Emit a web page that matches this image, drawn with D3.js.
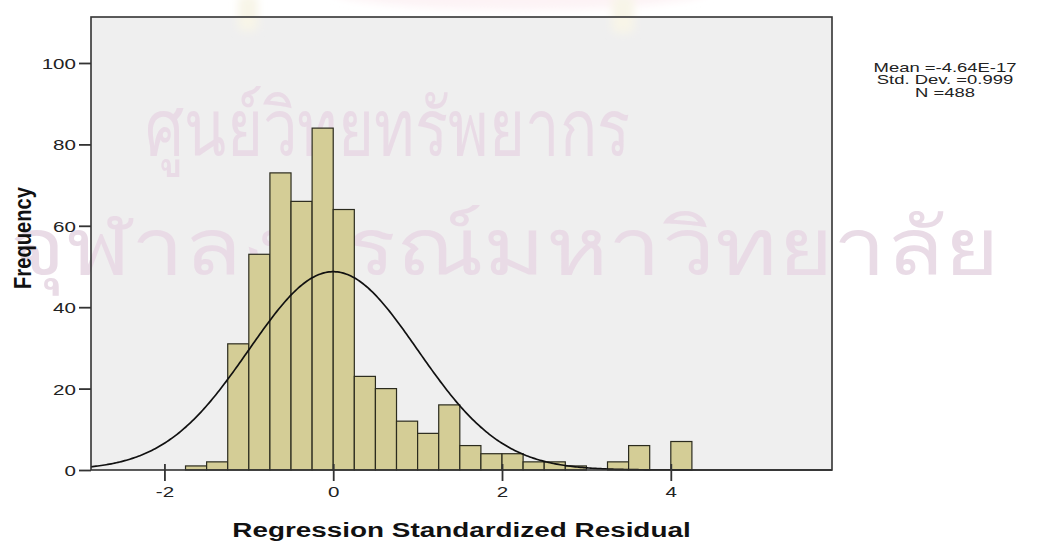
<!DOCTYPE html>
<html>
<head>
<meta charset="utf-8">
<script src="https://cdn.jsdelivr.net/npm/d3@7"></script>
<style>
  html, body { margin: 0; padding: 0; background: #ffffff; }
  svg { display: block; }
  text { font-family: "Liberation Sans", Arial, sans-serif; }
</style>
</head>
<body>
<svg id="chart" width="1040" height="541"></svg>
<script>
// Histogram of regression standardized residuals
const binLower = [-1.75, -1.5, -1.25, -1.0, -0.75, -0.5, -0.25, 0.0, 0.25, 0.5, 0.75, 1.0,
                  1.25, 1.5, 1.75, 2.0, 2.25, 2.5, 2.75, 3.0, 3.25, 3.5, 3.75, 4.0];
const counts   = [1, 2, 31, 53, 73, 66, 84, 64, 23, 20, 12, 9,
                  16, 6, 4, 4, 2, 2, 1, 0, 2, 6, 0, 7];
const binWidth = 0.25;

const xTicks = [-2, 0, 2, 4];
const yTicks = [0, 20, 40, 60, 80, 100];

const statMean = -4.64e-17;
const statSd = 0.999;
const statN = 488;
const statLines = ["Mean =-4.64E-17", "Std. Dev. =0.999", "N =488"];

const watermarkLines = ["ศูนย์วิทยทรัพยากร", "จุฬาลงกรณ์มหาวิทยาลัย"];

const svg = d3.select("#chart");
const plot = { left: 91, right: 832, top: 17, bottom: 470 };
const SX = 1.42; // horizontal stretch of the lettering

const x = d3.scaleLinear().domain([-2.87, 5.91]).range([plot.left, plot.right]);
const y = d3.scaleLinear().domain([0, 111.3]).range([plot.bottom, plot.top]);

// place a text at (px,py) stretched horizontally around its anchor
function stretched(sel, px, py, sx, sy) {
  sel.attr("x", 0).attr("y", 0)
     .attr("transform", `translate(${px},${py}) scale(${sx},${sy || 1})`);
  return sel;
}

const defs = svg.append("defs");
defs.append("filter").attr("id", "soft")
  .attr("x", "-20%").attr("y", "-50%").attr("width", "140%").attr("height", "200%")
  .append("feGaussianBlur").attr("stdDeviation", 4);

// plot background
svg.append("rect")
  .attr("x", plot.left).attr("y", plot.top)
  .attr("width", plot.right - plot.left).attr("height", plot.bottom - plot.top)
  .attr("fill", "#efefef");

// faint emblem at the top edge
const emblem = svg.append("g").attr("filter", "url(#soft)");
emblem.append("ellipse").attr("cx", 520).attr("cy", -10).attr("rx", 190).attr("ry", 20)
  .attr("fill", "#fdf3f5");
emblem.append("rect").attr("x", 238).attr("y", -5).attr("width", 20).attr("height", 36)
  .attr("rx", 6).attr("fill", "#f8f5e8");
emblem.append("rect").attr("x", 612).attr("y", -5).attr("width", 22).attr("height", 38)
  .attr("rx", 6).attr("fill", "#f8f5e8");

// faint institutional watermark
const wm = svg.append("g").attr("fill", "#e9dbe6")
  .style("font-family", "'Noto Sans Thai', 'Loma', 'Garuda', 'Norasi', 'DejaVu Sans', sans-serif")
  .style("font-size", "80px");
wm.append("text").attr("x", 145).attr("y", 156)
  .attr("textLength", 485).attr("lengthAdjust", "spacingAndGlyphs")
  .text(watermarkLines[0]);
wm.append("text").attr("x", 10).attr("y", 275)
  .attr("textLength", 990).attr("lengthAdjust", "spacingAndGlyphs")
  .text(watermarkLines[1]);

// bars
svg.append("g").selectAll("rect")
  .data(binLower.map((b, i) => ({ lo: b, hi: b + binWidth, n: counts[i] })).filter(d => d.n > 0))
  .join("rect")
  .attr("x", d => x(d.lo))
  .attr("y", d => y(d.n))
  .attr("width", d => x(d.hi) - x(d.lo))
  .attr("height", d => y(0) - y(d.n))
  .attr("fill", "#d4cd96")
  .attr("stroke", "#2b2b1e")
  .attr("stroke-width", 1.2);

// fitted normal curve
const curveXs = d3.range(-2.87, 5.91 + 1e-9, 0.02);
const pdf = v => Math.exp(-0.5 * Math.pow((v - statMean) / statSd, 2)) / (statSd * Math.sqrt(2 * Math.PI));
svg.append("path")
  .datum(curveXs)
  .attr("fill", "none")
  .attr("stroke", "#111")
  .attr("stroke-width", 1.7)
  .attr("d", d3.line().x(v => x(v)).y(v => y(statN * binWidth * pdf(v))));

// frame
svg.append("rect")
  .attr("x", plot.left).attr("y", plot.top)
  .attr("width", plot.right - plot.left).attr("height", plot.bottom - plot.top)
  .attr("fill", "none").attr("stroke", "#333").attr("stroke-width", 1.6);

// axes
const xAxis = svg.append("g")
  .attr("transform", `translate(0,${plot.bottom})`)
  .call(d3.axisBottom(x).tickValues(xTicks).tickSize(11).tickFormat(d3.format("d")));
xAxis.select(".domain").remove();
xAxis.selectAll("line").attr("stroke", "#333").attr("stroke-width", 1.8).attr("y1", -6);
xAxis.selectAll("text").attr("fill", "#222").attr("dy", null)
  .style("font-size", "14.5px")
  .each(function () { stretched(d3.select(this), 0, 27, SX); })
  .text(d => d < 0 ? "-" + Math.abs(d) : d);

const yAxis = svg.append("g")
  .attr("transform", `translate(${plot.left},0)`)
  .call(d3.axisLeft(y).tickValues(yTicks).tickSize(12).tickFormat(d3.format("d")));
yAxis.select(".domain").remove();
yAxis.selectAll("line").attr("stroke", "#333").attr("stroke-width", 1.8);
yAxis.selectAll("text").attr("fill", "#222").attr("dy", null)
  .style("font-size", "14.5px")
  .each(function () { stretched(d3.select(this), -15, 5.5, SX); });

// axis titles
stretched(svg.append("text"), (plot.left + plot.right) / 2, 537, 1.36, 1)
  .attr("text-anchor", "middle")
  .style("font-size", "20.5px").style("font-weight", "bold").attr("fill", "#111")
  .text("Regression Standardized Residual");

svg.append("text")
  .attr("transform", "translate(31,238) rotate(-90) scale(1.26,1.45)")
  .attr("text-anchor", "middle")
  .style("font-size", "16px").style("font-weight", "bold").attr("fill", "#111")
  .text("Frequency");

// summary statistics
svg.append("g").selectAll("text")
  .data(statLines)
  .join("text")
  .attr("text-anchor", "middle")
  .style("font-size", "12.3px").attr("fill", "#222")
  .each(function (d, i) { stretched(d3.select(this), 945, 72 + i * 12.4, 1.5, 1); })
  .text(d => d);
</script>
</body>
</html>
